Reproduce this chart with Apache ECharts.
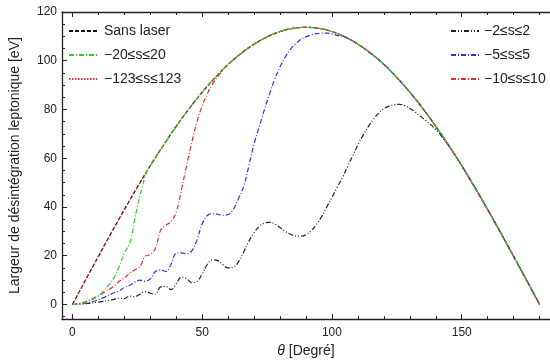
<!DOCTYPE html>
<html>
<head>
<meta charset="utf-8">
<script src="https://cdn.jsdelivr.net/npm/echarts@6/dist/echarts.min.js"></script>
<style>html,body{margin:0;padding:0;background:#fff}#c{width:550px;height:363px}</style>
</head>
<body>
<div id="c"></div>
<script>
// ---- Data ----
const thetaSans = [0,5,10,15,20,25,30,35,40,45,50,55,60,65,70,75,80,85,90,95,100,105,110,115,120,125,130,135,140,145,150,155,160,165,170,175,180];
const valSans   = [0,9.9,19.7,29.4,38.9,48.1,56.9,65.2,73.1,80.4,87.1,93.1,98.5,103.0,106.8,109.8,112.0,113.3,113.7,113.3,112.0,109.8,106.8,103.0,98.5,93.1,87.1,80.4,73.1,65.2,56.9,48.1,38.9,29.4,19.7,9.9,0];

// -123<=s<=123 coincides with the no-laser curve
const thetaS123 = thetaSans;
const valS123   = valSans;

const thetaS20 = [0,4,8,10,12,14,16,18,20,22,23,24,25,26,27,28,29];
const valS20   = [0,0.5,2.2,3.5,5.5,8,11,15.5,21,25,29,35,40,44.5,48.5,52.5,55.3];

const thetaS10 = [0,4,8,12,16,18,20,22,24,26,28,30,32,34,36,38,40,42,44,46,48,50,52,54,56];
const valS10   = [0,0.8,2.5,4.8,7.5,9.5,10.8,12.8,14.2,15.5,19.8,20.5,23,30.5,32.5,34,38,47,57,66.5,75,81.5,86.5,90.5,93.5];

const thetaS5 = [0,4,8,12,16,18,20,22,24,26,28,30,32,34,36,38,40,42,44,46,48,50,52,54,56,58,60,62,64,66,68,70,72,74,76,78,80,82,84,86,88,90,92,94,96,98,100,102,104];
const valS5   = [0,0.3,1.2,2.8,4.8,5.5,7,7.8,9.2,10,9.5,10.5,13.5,14.2,13.5,16.5,21,21.2,20.8,22,26.5,33,36.5,37.2,37,36.6,36.9,39,43.5,48.5,57,66,73,80,86.5,92.5,97.5,101.5,104.7,107,108.7,109.8,110.6,111.1,111.3,111.3,111.0,110.4,110.0];

const thetaS2 = [0,5,10,15,18,20,22,24,26,28,30,32,34,36,38,40,42,44,46,48,50,52,54,56,58,60,62,64,66,68,70,72,74,76,78,80,82,84,86,88,90,92,94,96,98,100,102,104,106,108,110,112,114,116,118,120,122,124,126,128,130,132,134,136,138,140,142,144];
const valS2   = [0,0.3,1.0,1.8,2.6,2.4,3.4,3.2,4.2,5.3,4.6,4.3,7.2,7.4,6.1,8.5,11.2,10.6,9.0,9.5,12.5,16.5,18.3,18.0,16.3,15.0,15.3,17.5,21.5,26,29.5,32,33.4,33.7,33,31.5,30,28.8,28.1,28,28.6,30.2,32.8,36,40,44,48,52,56.5,61,65.5,69.5,73,76,78.5,80.3,81.4,82,82.1,81.6,80.5,79,77.3,75.6,73.8,71.8,69.4,66.3];

const xTickLabels = [0,50,100,150];
const xMinorTicks = [10,20,30,40,60,70,80,90,110,120,130,140,160,170,180];
const yTickLabels = [0,20,40,60,80,100,120];
const yMinorTicks = [-5,5,10,15,25,30,35,45,50,55,65,70,75,85,90,95,105,110,115];

// build series data; after its last own point a curve follows the no-laser curve
function build(th, v, follow) {
  const out = th.map((t, i) => [t, v[i]]);
  if (follow) {
    const last = th[th.length - 1];
    thetaSans.forEach((t, i) => { if (t > last) out.push([t, valSans[i]]); });
  }
  return out;
}

const FONT = "'Liberation Sans', Arial, sans-serif";
const axisCol = '#222';
const chart = echarts.init(document.getElementById('c'), null, {renderer: 'canvas'});

function xAx(pos, major, labels) {
  return {
    type: 'value', min: -4, max: 184, position: pos, gridIndex: 0,
    axisLine: {show: major, onZero: false, lineStyle: {color: axisCol, width: 1.3}},
    axisTick: {show: true, inside: true, length: major ? 5 : 3, lineStyle: {color: axisCol, width: 1},
               customValues: major ? xTickLabels : xMinorTicks},
    axisLabel: labels ? {show: true, customValues: xTickLabels, color: '#222', fontSize: 12, fontFamily: FONT, margin: 8}
                      : {show: false},
    splitLine: {show: false}
  };
}

const legendCommon = {
  orient: 'vertical', top: 19, itemWidth: 28, itemHeight: 14, itemGap: 10,
  itemStyle: {opacity: 0},
  textStyle: {fontSize: 14, fontFamily: FONT, color: '#222', padding: [0, 0, 0, 2]}
};

chart.setOption({
  animation: false,
  grid: {left: 56, top: 12, width: 499, height: 308, containLabel: false},
  xAxis: [
    Object.assign(xAx('bottom', true, true), {
      name: '{i|θ} [Degré]', nameLocation: 'middle', nameGap: 24,
      nameTextStyle: {color: '#222', fontSize: 14, fontFamily: FONT,
        rich: {i: {fontStyle: 'italic', fontSize: 14, fontFamily: FONT, color: '#222'}}}
    }),
    xAx('bottom', false, false),
    xAx('top', true, false),
    xAx('top', false, false)
  ],
  yAxis: [
    {
      type: 'value', min: -6, max: 120, position: 'left',
      axisLine: {show: true, onZero: false, lineStyle: {color: axisCol, width: 1.3}},
      axisTick: {show: true, inside: true, length: 5, customValues: yTickLabels, lineStyle: {color: axisCol}},
      axisLabel: {customValues: yTickLabels, color: '#222', fontSize: 12, fontFamily: FONT, margin: 5},
      splitLine: {show: false},
      name: 'Largeur de désintégration leptonique [eV]', nameLocation: 'middle', nameGap: 40,
      nameTextStyle: {color: '#222', fontSize: 14, fontFamily: FONT}
    },
    {
      type: 'value', min: -6, max: 120, position: 'left',
      axisLine: {show: false, onZero: false},
      axisTick: {show: true, inside: true, length: 3, customValues: yMinorTicks, lineStyle: {color: axisCol}},
      axisLabel: {show: false}, splitLine: {show: false}
    }
  ],
  legend: [
    Object.assign({data: ['Sans laser', '−20≤s≤20', '−123≤s≤123'], left: 63}, legendCommon),
    Object.assign({data: ['−2≤s≤2', '−5≤s≤5', '−10≤s≤10'], left: 445}, legendCommon, {
      textStyle: {fontSize: 14, fontFamily: FONT, color: '#222', padding: [0, 0, 0, 0]}})
  ],
  series: [
    {name: 'Sans laser', type: 'line', symbol: 'none', smooth: 0.4, z: 2,
     data: build(thetaSans, valSans, false),
     lineStyle: {color: '#111', width: 1.2, type: [4, 2]}, itemStyle: {color: '#111'}},
    {name: '−123≤s≤123', type: 'line', symbol: 'none', smooth: 0.4, z: 3,
     data: build(thetaS123, valS123, false),
     lineStyle: {color: '#e03030', width: 1.2, type: [1.5, 1.5]}, itemStyle: {color: '#e03030'}},
    {name: '−20≤s≤20', type: 'line', symbol: 'none', smooth: 0.4, z: 4,
     data: build(thetaS20, valS20, true),
     lineStyle: {color: '#2ecc2e', width: 1.2, type: [5, 2, 1, 2]}, itemStyle: {color: '#2ecc2e'}},
    {name: '−2≤s≤2', type: 'line', symbol: 'none', smooth: 0.4, z: 3,
     data: build(thetaS2, valS2, true),
     lineStyle: {color: '#222', width: 1.2, type: [5, 2, 1, 2, 1, 2]}, itemStyle: {color: '#222'}},
    {name: '−5≤s≤5', type: 'line', symbol: 'none', smooth: 0.4, z: 3,
     data: build(thetaS5, valS5, true),
     lineStyle: {color: '#3333dd', width: 1.2, type: [5, 2, 1, 2]}, itemStyle: {color: '#3333dd'}},
    {name: '−10≤s≤10', type: 'line', symbol: 'none', smooth: 0.4, z: 3,
     data: build(thetaS10, valS10, true),
     lineStyle: {color: '#e03030', width: 1.2, type: [5, 2, 1, 2]}, itemStyle: {color: '#e03030'}}
  ]
});
</script>
</body>
</html>
